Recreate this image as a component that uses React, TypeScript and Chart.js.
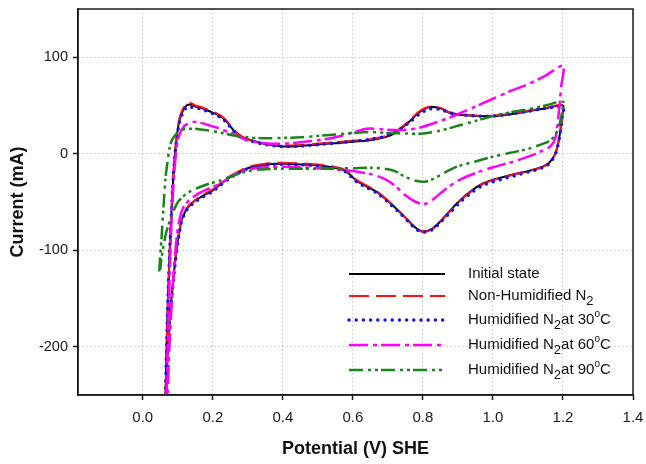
import React, { useEffect, useRef } from "react";
import { Chart, registerables } from "chart.js";

Chart.register(...registerables);

const FONT = '"Liberation Sans", Arial, Helvetica, sans-serif';

// ---- Data ----
const seriesLabels = [
  "Initial state",
  "Non-Humidified N₂",
  "Humidified N₂at 30°C",
  "Humidified N₂at 60°C",
  "Humidified N₂at 90°C",
];

const xTickValues = [0, 0.2, 0.4, 0.6, 0.8, 1.0, 1.2, 1.4];
const yTickValues = [-200, -100, 0, 100];

// shared potential sweep for the three nearly identical curves (anodic then cathodic)
const sweepPotential = [
  0.065, 0.068, 0.072, 0.077, 0.082, 0.087, 0.092, 0.098, 0.105, 0.115,
  0.125, 0.135, 0.15, 0.17, 0.19, 0.21, 0.225, 0.24, 0.26, 0.28,
  0.3, 0.35, 0.4, 0.45, 0.5, 0.55, 0.6, 0.65, 0.7, 0.73,
  0.76, 0.79, 0.82, 0.85, 0.88, 0.92, 0.96, 1.0, 1.05, 1.1,
  1.15, 1.2,
  1.198, 1.193, 1.187, 1.18, 1.17, 1.155, 1.13, 1.1, 1.07, 1.04,
  1.0, 0.97, 0.94, 0.91, 0.88, 0.85, 0.825, 0.8, 0.78, 0.76,
  0.73, 0.7, 0.67, 0.64, 0.61, 0.59, 0.57, 0.53, 0.48, 0.42,
  0.37, 0.33, 0.3, 0.27, 0.25, 0.22, 0.2, 0.17, 0.15, 0.13,
  0.12, 0.11, 0.105, 0.1, 0.093, 0.086, 0.078, 0.071, 0.067,
];

const initialCurrent = [
  -250, -200, -150, -100, -60, -25, 0, 20, 35, 45,
  50, 51, 49, 47, 44, 41, 38, 33, 24, 18,
  15, 10, 7.5, 8, 9.5, 11, 12.5, 14, 18, 24,
  33, 43, 48.5, 47, 42, 40, 39, 39, 41, 44,
  47, 50,
  40, 25, 12, 2, -5, -11, -15, -18, -20.5, -23,
  -27, -31, -38, -47, -58, -70, -78, -80.5, -77, -70,
  -59, -49, -40, -34, -28, -21, -16.5, -13.5, -11.5, -10.5,
  -10.5, -12.5, -15, -20, -24, -32, -38, -44, -48.5, -55,
  -61, -70, -80, -90, -110, -135, -165, -205, -250,
];

const nonHumidCurrent = [
  -250, -200, -150, -100, -58, -22, 2, 22, 37, 47,
  52, 53, 50, 48, 45, 42, 39, 34, 25, 18.5,
  15, 10.5, 8.5, 9, 10.5, 12, 13.5, 15, 19, 25,
  34, 44, 49, 47.5, 42.5, 40.5, 39.5, 39.5, 41.5, 44.5,
  47.5, 50.5,
  40, 25, 12, 2, -5, -11, -15, -18, -20.5, -23.5,
  -27.5, -31.5, -38.5, -47.5, -58.5, -70.5, -78.5, -81, -77.5, -70,
  -59, -48.5, -39.5, -33, -27, -20, -15.5, -12.5, -10.5, -9.5,
  -9.5, -11.5, -14, -19, -23, -31, -37, -43, -48, -54,
  -60, -69, -79, -90, -110, -135, -165, -205, -250,
];

const humid30Current = [
  -250, -200, -150, -100, -60, -25, -1, 18, 33, 43,
  48, 48.5, 47.5, 46, 43, 40, 37, 32, 23, 17,
  14, 9.5, 7.5, 8, 9.5, 11, 13, 15, 19, 24.5,
  32, 41, 46.5, 46, 42, 40, 39, 39, 41, 44,
  47, 48,
  38, 24, 11, 1, -6, -12, -16, -19, -22, -25,
  -29, -33, -40, -49, -60, -71, -79, -81, -78, -71,
  -60, -50, -41, -35, -29, -22, -17, -14, -12, -11,
  -11, -13, -15.5, -20.5, -25, -33, -39, -45, -50, -56,
  -62, -71, -81, -92, -112, -137, -167, -207, -250,
];

const humid60Potential = [
  0.068, 0.071, 0.075, 0.079, 0.084, 0.09, 0.096, 0.103, 0.115, 0.13,
  0.145, 0.165, 0.19, 0.22, 0.26, 0.3, 0.35, 0.4, 0.45, 0.5,
  0.55, 0.6, 0.64, 0.68, 0.72, 0.76, 0.8, 0.85, 0.9, 0.95,
  1.0, 1.05, 1.1, 1.15, 1.2,
  1.195, 1.19, 1.185, 1.178, 1.165, 1.14, 1.1, 1.05, 1.0, 0.95,
  0.9, 0.86, 0.83, 0.805, 0.78, 0.75, 0.72, 0.69, 0.65, 0.6,
  0.55, 0.5, 0.4, 0.35, 0.3, 0.26, 0.22, 0.19, 0.16, 0.14,
  0.12, 0.108, 0.1, 0.094, 0.088, 0.082, 0.076, 0.071,
];

const humid60Current = [
  -250, -200, -150, -100, -55, -20, 5, 18, 27, 31.5,
  33, 32, 29.5, 26, 20, 14, 11, 10.5, 12, 14,
  17, 22, 26, 25.5, 24.5, 25, 28, 34, 41, 49,
  57, 65, 72, 81, 91,
  70, 50, 32, 16, 8, 3, -3, -9, -14, -20,
  -28, -38, -47, -52, -50, -43, -33, -26, -21, -18,
  -16, -15, -13.5, -14, -16.5, -22, -31, -36, -41, -46,
  -53, -63, -78, -97, -125, -160, -200, -250,
];

const humid90Potential = [
  0.047, 0.05, 0.054, 0.06, 0.065, 0.07, 0.076, 0.083, 0.092, 0.1,
  0.115, 0.13, 0.16, 0.19, 0.22, 0.26, 0.3, 0.35, 0.4, 0.45,
  0.5, 0.55, 0.6, 0.65, 0.7, 0.75, 0.8, 0.85, 0.9, 0.95,
  1.0, 1.05, 1.1, 1.15, 1.2,
  1.198, 1.193, 1.185, 1.175, 1.16, 1.14, 1.1, 1.05, 1.0, 0.95,
  0.9, 0.86, 0.83, 0.805, 0.78, 0.75, 0.72, 0.69, 0.65, 0.6,
  0.5, 0.4, 0.35, 0.3, 0.26, 0.22, 0.19, 0.16, 0.13, 0.11,
  0.097, 0.085, 0.077, 0.068, 0.062, 0.057, 0.052, 0.05,
];

const humid90Current = [
  -122, -105, -85, -50, -25, -10, 5, 14, 19, 22,
  25, 26, 25.5, 24, 22, 19, 17, 16, 16.5, 17,
  18.5, 20, 21.5, 22.5, 21.5, 21, 21, 24, 29, 34,
  39, 43, 46, 50, 54,
  45, 35, 25, 18, 13, 10, 5, 1, -3, -8,
  -13, -20, -26, -29, -28, -24, -18, -15.5, -14.5, -15,
  -15.5, -15.5, -16, -18, -22.5, -28, -31, -35, -40, -46,
  -52, -62, -70, -80, -90, -100, -112, -120,
];

function toPoints(xs: number[], ys: number[]) {
  return xs.map((x, k) => ({ x, y: ys[k] }));
}

function drawRichText(ctx: CanvasRenderingContext2D, text: string, x: number, y: number) {
  ctx.save();
  ctx.fillStyle = "#111";
  ctx.textBaseline = "middle";
  ctx.textAlign = "left";
  let cx = x;
  let buf = "";
  const flush = () => {
    if (!buf) return;
    ctx.font = `15px ${FONT}`;
    ctx.fillText(buf, cx, y);
    cx += ctx.measureText(buf).width;
    buf = "";
  };
  for (const ch of text) {
    if (ch === "₂") {
      flush();
      ctx.font = `13px ${FONT}`;
      ctx.fillText("2", cx, y + 5);
      cx += ctx.measureText("2").width;
    } else if (ch === "°") {
      flush();
      ctx.font = `10px ${FONT}`;
      ctx.fillText("o", cx, y - 6);
      cx += ctx.measureText("o").width;
    } else {
      buf += ch;
    }
  }
  flush();
  ctx.restore();
}

const legendRowsY = [274, 296, 320, 345, 370];

const cvLegendPlugin = {
  id: "cvLegend",
  afterDatasetsDraw(chart: any) {
    const ctx = chart.ctx as CanvasRenderingContext2D;
    chart.data.datasets.forEach((ds: any, i: number) => {
      const y = legendRowsY[i];
      ctx.save();
      ctx.strokeStyle = ds.borderColor;
      ctx.lineWidth = ds.borderWidth;
      ctx.setLineDash(ds.borderDash || []);
      ctx.lineCap = ds.borderCapStyle || "butt";
      ctx.beginPath();
      ctx.moveTo(349, y);
      ctx.lineTo(445, y);
      ctx.stroke();
      ctx.restore();
      drawRichText(ctx, ds.label, 468, y);
    });
  },
};

const framePlugin = {
  id: "frame",
  afterDraw(chart: any) {
    const { ctx, chartArea } = chart;
    ctx.save();
    ctx.strokeStyle = "#1a1a1a";
    ctx.lineWidth = 1.5;
    ctx.setLineDash([]);
    ctx.strokeRect(chartArea.left, chartArea.top, chartArea.right - chartArea.left, chartArea.bottom - chartArea.top);
    ctx.restore();
  },
};

export default function App() {
  const canvasRef = useRef<HTMLCanvasElement | null>(null);

  useEffect(() => {
    if (!canvasRef.current) return;
    const common = { showLine: true, pointRadius: 0, pointHoverRadius: 0, fill: false, tension: 0.3 };
    const gridOpts = {
      color: "#b8b8b8",
      lineWidth: 1,
      tickColor: "#1a1a1a",
      tickLength: 5,
      tickWidth: 1.5,
    };
    const chart = new Chart(canvasRef.current, {
      type: "scatter",
      data: {
        datasets: [
          {
            ...common,
            label: seriesLabels[0],
            data: toPoints(sweepPotential, initialCurrent),
            borderColor: "#000000",
            borderWidth: 2,
            borderDash: [],
            order: 5,
          },
          {
            ...common,
            label: seriesLabels[1],
            data: toPoints(sweepPotential, nonHumidCurrent),
            borderColor: "#ff1010",
            borderWidth: 2,
            borderDash: [20, 7],
            order: 4,
          },
          {
            ...common,
            label: seriesLabels[2],
            data: toPoints(sweepPotential, humid30Current),
            borderColor: "#1010ff",
            borderWidth: 3.5,
            borderDash: [0, 7.2],
            borderCapStyle: "round",
            order: 3,
          },
          {
            ...common,
            label: seriesLabels[3],
            data: toPoints(humid60Potential, humid60Current),
            borderColor: "#ff00ff",
            borderWidth: 2.5,
            borderDash: [19, 5, 4, 4],
            order: 2,
          },
          {
            ...common,
            label: seriesLabels[4],
            data: toPoints(humid90Potential, humid90Current),
            borderColor: "#1a841a",
            borderWidth: 2.5,
            borderDash: [14, 5, 3, 4, 3, 3],
            order: 1,
          },
        ],
      } as any,
      plugins: [cvLegendPlugin, framePlugin],
      options: {
        responsive: false,
        maintainAspectRatio: false,
        animation: false,
        devicePixelRatio: 1,
        layout: { padding: { top: 9, right: 13, bottom: 0, left: 0 } },
        plugins: {
          legend: { display: false },
          tooltip: { enabled: false },
        },
        scales: {
          x: {
            type: "linear",
            min: -0.185,
            max: 1.4,
            afterBuildTicks: (s: any) => {
              s.ticks = xTickValues.map((v) => ({ value: v }));
            },
            afterFit: (s: any) => {
              s.height = 69;
              s.paddingLeft = 0;
              s.paddingRight = 0;
            },
            grid: gridOpts,
            border: { display: true, color: "#1a1a1a", width: 1.5, dash: [1.2, 2.8] },
            ticks: {
              font: { size: 15, family: FONT },
              color: "#1a1a1a",
              padding: 9,
              maxRotation: 0,
              callback: (v: any) => Number(v).toFixed(1),
            },
            title: {
              display: true,
              text: "Potential (V) SHE",
              font: { size: 18, weight: "bold", family: FONT },
              color: "#111",
              padding: { top: 0, bottom: 4 },
            },
          },
          y: {
            type: "linear",
            min: -250,
            max: 150,
            afterBuildTicks: (s: any) => {
              s.ticks = yTickValues.map((v) => ({ value: v }));
            },
            afterFit: (s: any) => {
              s.width = 78;
              s.paddingTop = 0;
              s.paddingBottom = 0;
            },
            grid: gridOpts,
            border: { display: true, color: "#1a1a1a", width: 1.5, dash: [1.2, 2.8] },
            ticks: {
              font: { size: 14.5, family: FONT },
              color: "#1a1a1a",
              padding: 5,
              callback: (v: any) => String(v),
            },
            title: {
              display: true,
              text: "Current (mA)",
              font: { size: 18, weight: "bold", family: FONT },
              color: "#111",
              padding: { top: 7, bottom: 0 },
            },
          },
        },
      } as any,
    });
    return () => chart.destroy();
  }, []);

  return (
    <div style={{ position: "absolute", left: 0, top: 0, width: 646, height: 464, background: "#fff" }}>
      <canvas ref={canvasRef} width={646} height={464} style={{ display: "block" }} />
    </div>
  );
}
